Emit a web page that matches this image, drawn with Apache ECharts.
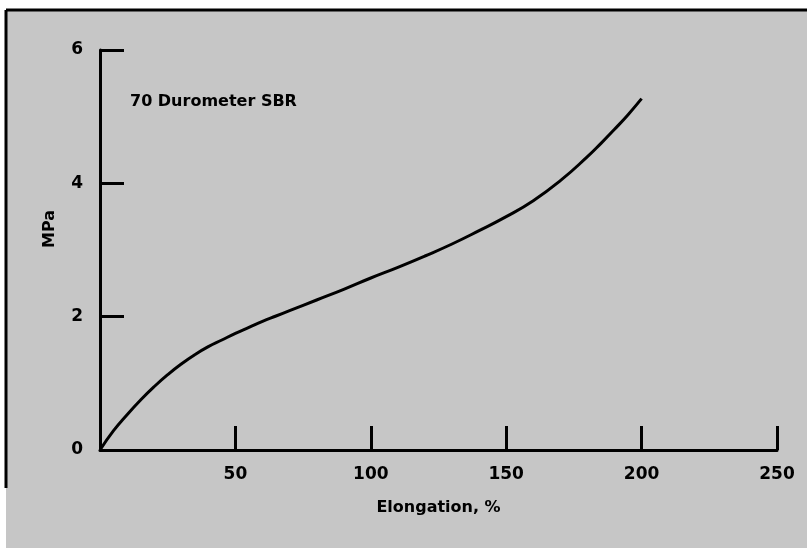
<!DOCTYPE html>
<html>
<head>
<meta charset="utf-8">
<script src="https://cdn.jsdelivr.net/npm/echarts@6/dist/echarts.min.js"></script>
<style>
html,body{margin:0;padding:0;background:#ffffff;}
#c{width:807px;height:548px;}
</style>
</head>
<body>
<div id="c"></div>
<script>
const elongation = [0,5,10,15,20,25,30,35,40,45,50,55,60,65,70,80,90,100,110,120,130,140,150,160,170,180,185,190,195,200];
const stress     = [0,0.29,0.53,0.75,0.95,1.13,1.29,1.43,1.55,1.65,1.75,1.84,1.93,2.01,2.09,2.25,2.41,2.58,2.74,2.91,3.09,3.29,3.50,3.74,4.04,4.40,4.60,4.81,5.03,5.27];
const xTicks = [0,50,100,150,200,250];
const yTicks = [0,2,4,6];
const curveLabel = '70 Durometer SBR';
const xName = 'Elongation, %';
const yName = 'MPa';

const FONT = '"DejaVu Sans", "Open Sans", sans-serif';
const chart = echarts.init(document.getElementById('c'), null, {renderer:'canvas'});
chart.setOption({
  animation:false,
  backgroundColor:'#ffffff',
  graphic:[
    {type:'rect', z:-10, shape:{x:6,y:10,width:801,height:538}, style:{fill:'#c6c6c6'}},
    {type:'line', z:-5, shape:{x1:6,y1:10,x2:807,y2:10}, style:{stroke:'#000',lineWidth:3}},
    {type:'line', z:-5, shape:{x1:6,y1:10,x2:6,y2:488}, style:{stroke:'#000',lineWidth:3}},
    {type:'text', left:130, top:94, style:{text:curveLabel, font:'bold 16px '+FONT, fill:'#000'}},
    {type:'text', x:50, y:229, rotation:Math.PI/2, style:{text:yName, font:'bold 16px '+FONT, fill:'#000', align:'center', verticalAlign:'middle'}}
  ],
  grid:{left:100, right:30, top:50, bottom:98, containLabel:false},
  xAxis:{
    type:'value', min:xTicks[0], max:xTicks[xTicks.length-1], interval:50,
    name:xName, nameLocation:'middle', nameGap:50,
    nameTextStyle:{fontFamily:FONT, fontWeight:'bold', fontSize:16, color:'#000'},
    axisLine:{show:true, onZero:false, lineStyle:{color:'#000', width:3}},
    axisTick:{show:true, inside:true, length:24, lineStyle:{color:'#000', width:3}},
    axisLabel:{showMinLabel:false, margin:16, fontFamily:FONT, fontWeight:'bold', fontSize:17, color:'#000'},
    splitLine:{show:false}
  },
  yAxis:{
    type:'value', min:yTicks[0], max:yTicks[yTicks.length-1], interval:2,
    axisLine:{show:true, onZero:false, lineStyle:{color:'#000', width:3}},
    axisTick:{show:true, inside:true, length:24, lineStyle:{color:'#000', width:3}},
    axisLabel:{margin:17, fontFamily:FONT, fontWeight:'bold', fontSize:17, color:'#000'},
    splitLine:{show:false}
  },
  series:[{
    type:'line', data:elongation.map((x,i)=>[x,stress[i]]),
    smooth:true, showSymbol:false, symbol:'none',
    lineStyle:{color:'#000', width:3}
  }]
});
</script>
</body>
</html>
